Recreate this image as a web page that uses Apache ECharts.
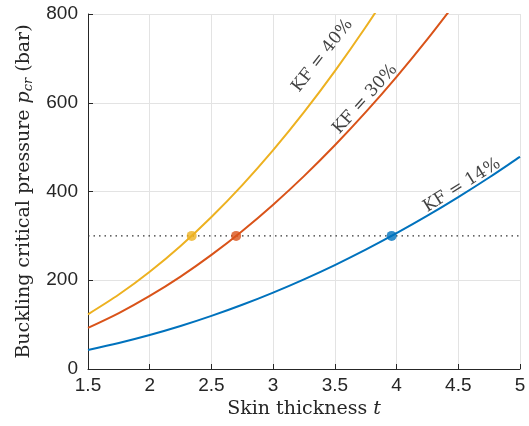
<!DOCTYPE html>
<html><head><meta charset="utf-8">
<script src="https://cdn.jsdelivr.net/npm/echarts@6/dist/echarts.min.js"></script>
<style>html,body{margin:0;padding:0;background:#fff}#c{width:529px;height:426px}</style>
</head><body><div id="c"></div>
<script>
const tValues = [1.5,1.75,2,2.25,2.5,2.75,3,3.25,3.5,3.75,4,4.25,4.5,4.75,5];
const kf14 = [43,58.6,76.5,96.8,119.6,144.7,172.2,202.1,234.3,269.0,306.1,345.5,387.4,431.6,478.3];
const kf30 = [92.6,126.0,164.6,208.3,257.2,311.2,370.4,434.7,504.1,578.7,658.4,743.3,833.3];
const kf40 = [123.3,167.8,219.2,277.4,342.5,414.4,493.2,578.8,671.3,770.6,876.8];
const critT = [3.96,2.70,2.34];
const critP = 300;
const seriesNames = ['KF = 14%','KF = 30%','KF = 40%'];
const labelAnchors = [[4.53,414,32],[3.745,608,48],[3.40,706,52]];
const xTicks = {min:1.5,max:5,interval:0.5};
const yTicks = {min:0,max:800,interval:200};
const colors = ['#0072BD','#D95319','#EDB120'];
const serif = 'DejaVu Serif';

const chart = echarts.init(document.getElementById('c'));
const curves = [kf14,kf30,kf40];
const series = [];
series.push({type:'line',data:[[xTicks.min,critP],[xTicks.max,critP]],symbol:'none',
  lineStyle:{color:'#333',width:1.3,type:[1.5,4]},silent:true,z:1});
curves.forEach((vals,i)=>{
  series.push({type:'line',name:seriesNames[i],data:vals.map((v,j)=>[tValues[j],v]),
    smooth:0.3,symbol:'none',clip:true,lineStyle:{color:colors[i],width:2},z:2});
  series.push({type:'scatter',data:[[critT[i],critP]],symbolSize:10,
    itemStyle:{color:colors[i]},z:3});
  series.push({type:'scatter',data:[[labelAnchors[i][0],labelAnchors[i][1]]],symbolSize:0,
    label:{show:true,position:'inside',formatter:seriesNames[i],rotate:labelAnchors[i][2],
      fontFamily:serif,fontSize:17,color:'#111'},z:4});
});
chart.setOption({
  animation:false,
  grid:{left:88,right:9,top:14,bottom:57},
  xAxis:{type:'value',min:xTicks.min,max:xTicks.max,interval:xTicks.interval,
    name:'Skin thickness {i|t}',nameLocation:'middle',nameGap:31,
    nameTextStyle:{fontFamily:serif,fontSize:19,color:'#262626',
      rich:{i:{fontFamily:serif,fontStyle:'italic',fontSize:19,color:'#262626'}}},
    axisLine:{lineStyle:{color:'#262626',width:1}},
    axisTick:{inside:true,length:5,lineStyle:{color:'#262626'}},
    axisLabel:{fontFamily:'Liberation Sans',fontSize:19,color:'#262626',margin:7,
      formatter:v=>String(v)},
    splitLine:{show:true,lineStyle:{color:'#e3e3e3',width:1}}},
  yAxis:{type:'value',min:yTicks.min,max:yTicks.max,interval:yTicks.interval,
    name:'Buckling critical pressure {i|p}{s|cr} (bar)',nameLocation:'middle',nameGap:53,nameRotate:90,
    nameTextStyle:{fontFamily:serif,fontSize:19,color:'#262626',
      rich:{i:{fontFamily:serif,fontStyle:'italic',fontSize:19,color:'#262626'},
            s:{fontFamily:serif,fontStyle:'italic',fontSize:13,color:'#262626',verticalAlign:'bottom',padding:[8,0,0,0]}}},
    axisLine:{show:true,lineStyle:{color:'#262626',width:1}},
    axisTick:{show:true,inside:true,length:5,lineStyle:{color:'#262626'}},
    axisLabel:{fontFamily:'Liberation Sans',fontSize:19,color:'#262626',margin:10},
    splitLine:{show:true,lineStyle:{color:'#e3e3e3',width:1}}},
  series:series
});
</script></body></html>
